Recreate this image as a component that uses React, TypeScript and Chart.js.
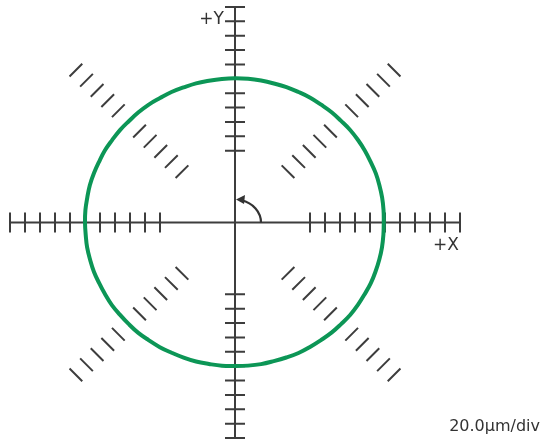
import { useEffect, useRef } from "react";
import { Chart, registerables } from "chart.js";

Chart.register(...registerables);

// Polar trace sample angles (degrees) and radial deviations (in divisions, 1 div = 20.0 µm)
const angleDeg = [0, 5, 10, 15, 20, 25, 30, 35, 40, 45, 50, 55, 60, 65, 70, 75, 80, 85,
  90, 95, 100, 105, 110, 115, 120, 125, 130, 135, 140, 145, 150, 155, 160, 165, 170, 175,
  180, 185, 190, 195, 200, 205, 210, 215, 220, 225, 230, 235, 240, 245, 250, 255, 260, 265,
  270, 275, 280, 285, 290, 295, 300, 305, 310, 315, 320, 325, 330, 335, 340, 345, 350, 355];
const greenDev = [-0.08, -0.06, -0.04, -0.03, -0.01, -0.02, 0.0, 0.01, 0.02, 0.0, 0.02, 0.01, 0.03, 0.02, 0.03, 0.02, 0.03, 0.04,
  0.04, 0.03, 0.02, 0.03, 0.01, 0.02, 0.0, 0.02, 0.01, -0.01, 0.01, 0.0, 0.02, 0.0, 0.01, 0.02, 0.0, 0.01,
  0.0, -0.01, 0.01, 0.0, 0.01, -0.01, 0.0, 0.02, 0.0, 0.01, 0.03, 0.01, 0.02, 0.0, 0.01, 0.02, 0.0, 0.01,
  -0.01, 0.0, 0.01, -0.01, 0.0, 0.02, 0.0, -0.01, 0.01, 0.0, 0.02, 0.0, -0.02, -0.01, -0.03, -0.04, -0.05, -0.07];
const darkDev = [-0.1, -0.07, -0.06, -0.03, -0.03, -0.01, -0.02, 0.0, 0.0, 0.02, 0.0, 0.02, 0.01, 0.03, 0.01, 0.03, 0.02, 0.03,
  0.03, 0.04, 0.01, 0.02, 0.02, 0.0, 0.01, 0.0, 0.02, 0.0, -0.01, 0.01, 0.0, 0.01, -0.01, 0.0, 0.01, -0.01,
  -0.01, 0.0, -0.02, 0.01, -0.01, 0.0, 0.01, -0.01, 0.01, 0.0, 0.01, 0.02, 0.0, 0.01, 0.0, 0.0, 0.01, -0.01,
  0.0, -0.02, 0.0, 0.0, -0.02, 0.0, 0.01, -0.02, 0.0, -0.01, 0.0, 0.01, -0.03, -0.02, -0.04, -0.05, -0.07, -0.08];
const nominalRadius = 10;
const axisExtent = 15;
const tickRadii = [5, 6, 7, 8, 9, 10, 11, 12, 13, 14, 15];
const diagonalAngles = [45, 135, 225, 315];
const xLabel = "+X";
const yLabel = "+Y";
const scaleLabel = "20.0µm/div";

function toPoints(dev: number[]) {
  const pts = angleDeg.map((a, i) => {
    const r = nominalRadius + dev[i];
    const t = (a * Math.PI) / 180;
    return { x: r * Math.cos(t), y: r * Math.sin(t) };
  });
  pts.push(pts[0]);
  return pts;
}

const crossPlugin = {
  id: "crossPlugin",
  beforeDatasetsDraw(chart: any) {
    const { ctx, scales } = chart;
    const xs = scales.x;
    const ys = scales.y;
    const px = (v: number) => xs.getPixelForValue(v);
    const py = (v: number) => ys.getPixelForValue(v);
    const cx = px(0);
    const cy = py(0);
    ctx.save();
    ctx.strokeStyle = "#3d3d3d";
    ctx.lineCap = "butt";
    // main axes
    ctx.lineWidth = 2;
    ctx.beginPath();
    ctx.moveTo(px(-axisExtent), cy);
    ctx.lineTo(px(axisExtent), cy);
    ctx.moveTo(cx, py(-axisExtent));
    ctx.lineTo(cx, py(axisExtent));
    ctx.stroke();
    // axis ticks
    ctx.beginPath();
    for (const r of tickRadii) {
      for (const s of [-1, 1]) {
        const tx = px(s * r);
        ctx.moveTo(tx, cy - 10);
        ctx.lineTo(tx, cy + 10);
        const ty = py(s * r);
        ctx.moveTo(cx - 10, ty);
        ctx.lineTo(cx + 10, ty);
      }
    }
    ctx.stroke();
    // diagonal ticks
    ctx.lineWidth = 2;
    ctx.beginPath();
    for (const a of diagonalAngles) {
      const t = (a * Math.PI) / 180;
      const dx = Math.sin(t);
      const dy = Math.cos(t);
      for (const r of tickRadii) {
        const x0 = px(r * Math.cos(t));
        const y0 = py(r * Math.sin(t));
        ctx.moveTo(x0 - dx * 9, y0 - dy * 9);
        ctx.lineTo(x0 + dx * 9, y0 + dy * 9);
      }
    }
    ctx.stroke();
    // rotation arrow
    ctx.lineWidth = 2.2;
    ctx.strokeStyle = "#333";
    ctx.beginPath();
    ctx.ellipse(cx, cy, 26, 23, 0, 0, -Math.PI * 0.42, true);
    ctx.stroke();
    ctx.fillStyle = "#333";
    ctx.beginPath();
    ctx.moveTo(cx + 1, cy - 23);
    ctx.lineTo(cx + 10, cy - 27.5);
    ctx.lineTo(cx + 9, cy - 18.5);
    ctx.closePath();
    ctx.fill();
    // labels
    ctx.fillStyle = "#333";
    ctx.textBaseline = "alphabetic";
    ctx.textAlign = "right";
    ctx.font = "17px 'DejaVu Sans'";
    ctx.fillText(yLabel, cx - 11, py(axisExtent) + 17);
    ctx.fillText(xLabel, px(axisExtent) - 1, cy + 27);
    ctx.font = "16px 'DejaVu Sans'";
    ctx.fillText(scaleLabel, chart.width - 18, 431);
    ctx.restore();
  },
};

export default function App() {
  const ref = useRef<HTMLCanvasElement>(null);
  useEffect(() => {
    if (!ref.current) return;
    const chart = new Chart(ref.current, {
      type: "scatter",
      data: {
        datasets: [
          {
            data: toPoints(greenDev),
            showLine: true,
            borderColor: "#0c9656",
            borderWidth: 4,
            pointRadius: 0,
            tension: 0.4,
            fill: false,
          },
          {
            data: toPoints(darkDev),
            showLine: true,
            borderColor: "rgba(60,50,95,0.7)",
            borderWidth: 1.2,
            borderDash: [12, 8],
            pointRadius: 0,
            tension: 0.4,
            fill: false,
          },
        ],
      },
      options: {
        responsive: false,
        animation: false,
        layout: { padding: { left: 10, right: 98, top: 7, bottom: 6 } },
        scales: {
          x: { type: "linear", display: false, min: -axisExtent, max: axisExtent },
          y: { type: "linear", display: false, min: -axisExtent, max: axisExtent },
        },
        plugins: { legend: { display: false }, tooltip: { enabled: false } },
      },
      plugins: [crossPlugin],
    });
    return () => chart.destroy();
  }, []);
  return (
    <div style={{ position: "fixed", left: 0, top: 0, width: 558, height: 444, background: "#fff" }}>
      <canvas ref={ref} width={558} height={444} style={{ width: 558, height: 444 }} />
    </div>
  );
}
